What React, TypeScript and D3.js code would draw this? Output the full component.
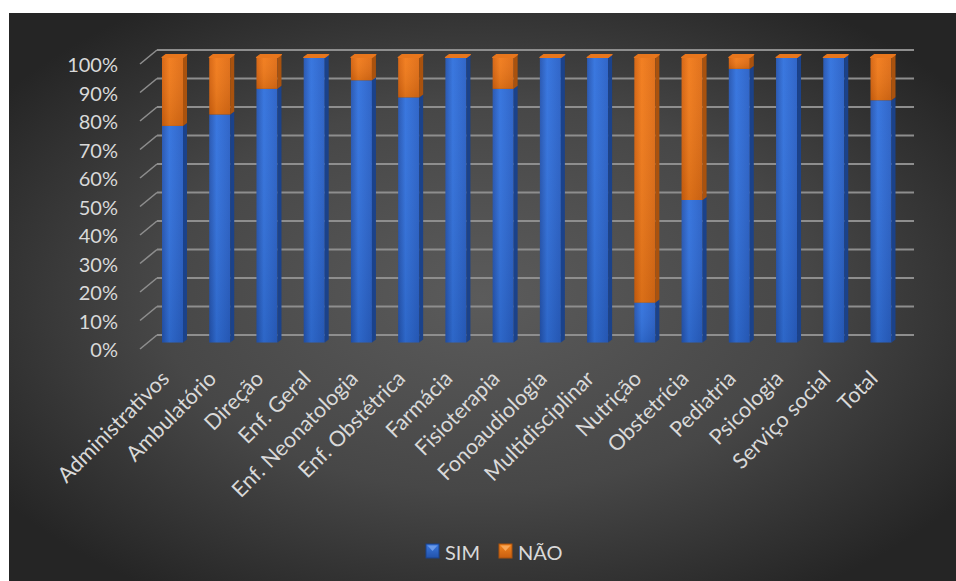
import React from "react";
import * as d3 from "d3";

// Share of respondents answering SIM / NÃO per sector (percent of each column)
const categories = [
  "Administrativos",
  "Ambulatório",
  "Direção",
  "Enf. Geral",
  "Enf. Neonatologia",
  "Enf. Obstétrica",
  "Farmácia",
  "Fisioterapia",
  "Fonoaudiologia",
  "Multidisciplinar",
  "Nutrição",
  "Obstetrícia",
  "Pediatria",
  "Psicologia",
  "Serviço social",
  "Total",
];
const simValues = [76, 80, 89, 100, 92, 86, 100, 89, 100, 100, 14, 50, 96, 100, 100, 85];
const naoValues = [24, 20, 11, 0, 8, 14, 0, 11, 0, 0, 86, 50, 4, 0, 0, 15];
const yTicks = [0, 10, 20, 30, 40, 50, 60, 70, 80, 90, 100];
const seriesNames = ["SIM", "NÃO"];

const W = 956;
const H = 581;
const FONT = "Lato, 'Open Sans', sans-serif";
const TEXT = "#d9d9d9";

// 3D wall offsets around the bar plane
const BACK_X0 = 157;
const BACK_X1 = 914;
const FRONT_X0 = 140;
const BACK_DY = -7.5;
const FRONT_DY = 6.5;
const BAR_W = 21;
const DEPTH_X = 4;
const DEPTH_Y = 3;

const palette = {
  sim: { face: "url(#gSim)", side: "#1b428a", top: "#2f66cc" },
  nao: { face: "url(#gNao)", side: "#a9520e", top: "#e8761c" },
};

export default function App() {
  const x = d3.scalePoint<string>().domain(categories).range([172.5, 881]);
  const y = d3.scaleLinear().domain([0, 100]).range([342.5, 57.5]);

  const stacks = categories.map((c, i) => {
    const s = simValues[i];
    const n = naoValues[i];
    return {
      cat: c,
      segs: [
        { key: "sim", y0: 0, y1: s },
        { key: "nao", y0: s, y1: s + n },
      ],
    };
  });

  const segShape = (cx: number, y0: number, y1: number, key: "sim" | "nao") => {
    const xl = cx - BAR_W / 2;
    const xr = cx + BAR_W / 2;
    const yb = y(y0);
    const yt = y(y1);
    if (yb - yt <= 0) return null;
    const p = palette[key];
    return (
      <g key={key}>
        <rect x={xl} y={yt} width={BAR_W} height={yb - yt} fill={p.face} />
        <rect x={xl} y={yt} width={BAR_W} height={yb - yt} fill="url(#gShade)" />
        <path
          d={`M${xr},${yt} L${xr + DEPTH_X},${yt - DEPTH_Y} L${xr + DEPTH_X},${yb - DEPTH_Y} L${xr},${yb} Z`}
          fill={p.side}
        />
      </g>
    );
  };

  return (
    <svg
      width={W}
      height={H}
      style={{ position: "absolute", left: 0, top: 0, display: "block" }}
      fontFamily={FONT}
    >
      <defs>
        <radialGradient id="gBg" cx="50%" cy="50%" r="62%">
          <stop offset="0%" stopColor="#5b5b5b" />
          <stop offset="55%" stopColor="#474747" />
          <stop offset="100%" stopColor="#252525" />
        </radialGradient>
        <linearGradient id="gSim" x1="0" x2="1" y1="0" y2="0">
          <stop offset="0%" stopColor="#2454b0" />
          <stop offset="35%" stopColor="#3272de" />
          <stop offset="100%" stopColor="#2960c6" />
        </linearGradient>
        <linearGradient id="gNao" x1="0" x2="1" y1="0" y2="0">
          <stop offset="0%" stopColor="#d5620e" />
          <stop offset="35%" stopColor="#f27b1a" />
          <stop offset="100%" stopColor="#df6c14" />
        </linearGradient>
        <linearGradient id="gShade" x1="0" x2="0" y1="0" y2="1">
          <stop offset="0%" stopColor="#ffffff" stopOpacity={0.04} />
          <stop offset="100%" stopColor="#000000" stopOpacity={0.1} />
        </linearGradient>
        <linearGradient id="gLegSim" x1="0" x2="0" y1="0" y2="1">
          <stop offset="0%" stopColor="#3a78e0" />
          <stop offset="100%" stopColor="#2252aa" />
        </linearGradient>
        <linearGradient id="gLegNao" x1="0" x2="0" y1="0" y2="1">
          <stop offset="0%" stopColor="#f4861f" />
          <stop offset="100%" stopColor="#c85e10" />
        </linearGradient>
      </defs>

      <rect x={9} y={13} width={W - 9} height={H - 13} fill="url(#gBg)" />

      {/* gridlines on back wall plus depth diagonals */}
      <g stroke="#8e8e8e" strokeWidth={2} fill="none">
        {yTicks.map((t) => (
          <g key={t}>
            <line x1={BACK_X0} x2={BACK_X1} y1={y(t) + BACK_DY} y2={y(t) + BACK_DY} />
            <line
              x1={FRONT_X0}
              y1={y(t) + FRONT_DY}
              x2={BACK_X0}
              y2={y(t) + BACK_DY}
              strokeWidth={1.6}
            />
          </g>
        ))}
      </g>

      {/* y-axis labels */}
      <g fill={TEXT} fontSize={20} textAnchor="end">
        {yTicks.map((t) => (
          <text key={t} x={118} y={y(t) + FRONT_DY} dominantBaseline="central">
            {`${t}%`}
          </text>
        ))}
      </g>

      {/* stacked 3D columns */}
      <g>
        {stacks.map((s) => {
          const cx = x(s.cat)!;
          const topVal = s.segs[1].y1;
          const yt = y(topVal);
          const xl = cx - BAR_W / 2;
          const xr = cx + BAR_W / 2;
          return (
            <g key={s.cat}>
              {s.segs.map((g) => segShape(cx, g.y0, g.y1, g.key as "sim" | "nao"))}
              <path
                d={`M${xl},${yt} L${xr},${yt} L${xr + DEPTH_X},${yt - DEPTH_Y} L${xl + DEPTH_X},${yt - DEPTH_Y} Z`}
                fill={palette.nao.top}
                stroke={palette.nao.top}
                strokeWidth={1.2}
                strokeLinejoin="round"
              />
            </g>
          );
        })}
      </g>

      {/* category labels */}
      <g fill={TEXT} fontSize={21.5} textAnchor="end">
        {categories.map((c) => {
          const cx = x(c)! - 2;
          const ly = 380;
          return (
            <text key={c} x={cx} y={ly} transform={`rotate(-45 ${cx} ${ly})`}>
              {c}
            </text>
          );
        })}
      </g>

      {/* legend */}
      <g>
        {seriesNames.map((name, i) => {
          const lx = i === 0 ? 426 : 499;
          const ly = 544;
          const grad = i === 0 ? "url(#gLegSim)" : "url(#gLegNao)";
          const edge = i === 0 ? "#1b428a" : "#a9520e";
          const hi = i === 0 ? "#6a9aea" : "#f9a758";
          return (
            <g key={name}>
              <rect x={lx} y={ly} width={13} height={14} fill={grad} stroke={edge} strokeWidth={1} />
              <path d={`M${lx + 1.5},${ly + 1.5} L${lx + 11.5},${ly + 1.5} L${lx + 6.5},${ly + 7} Z`} fill={hi} />
              <text x={lx + 19} y={ly + 7.5} fill={TEXT} fontSize={20} dominantBaseline="central">
                {name}
              </text>
            </g>
          );
        })}
      </g>
    </svg>
  );
}
